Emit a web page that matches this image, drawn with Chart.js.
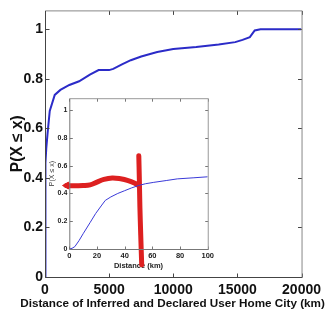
<!DOCTYPE html>
<html>
<head>
<meta charset="utf-8">
<script src="https://cdn.jsdelivr.net/npm/chart.js@4/dist/chart.umd.min.js"></script>
<style>
  html, body { margin: 0; padding: 0; background: #fff; }
  #wrap { position: relative; width: 326px; height: 320px; }
  #main { position: absolute; left: 0; top: 0; }
  #inset { position: absolute; left: 44px; top: 92px; }
</style>
</head>
<body>
<div id="wrap">
  <canvas id="main" width="326" height="320"></canvas>
  <canvas id="inset" width="172" height="178"></canvas>
</div>
<script>
// main CDF (distance in km)
const mainDist = [0, 20, 50, 100, 200, 370, 760, 1200, 1900, 2660, 3500, 4180, 5000, 5320, 6000, 6690, 7500, 8750, 10000, 11790, 13540, 14830, 15400, 15970, 16350, 16800, 20000];
const mainCdf = [0, 0.3, 0.46, 0.52, 0.58, 0.67, 0.735, 0.755, 0.775, 0.79, 0.817, 0.835, 0.835, 0.84, 0.858, 0.875, 0.89, 0.908, 0.92, 0.928, 0.938, 0.948, 0.957, 0.968, 0.995, 1.0, 1.0];
const mainXTicks = [0, 5000, 10000, 15000, 20000];
const mainYTicks = [0, 0.2, 0.4, 0.6, 0.8, 1];

// inset CDF (0-100 km)
const insetDist = [0, 2, 4, 7, 10, 15, 19, 23, 26, 30, 35, 40, 45, 50, 55, 61, 70, 78, 90, 100];
const insetCdf = [0, 0.005, 0.017, 0.06, 0.11, 0.19, 0.255, 0.31, 0.35, 0.375, 0.4, 0.42, 0.44, 0.457, 0.47, 0.48, 0.493, 0.505, 0.513, 0.52];
const insetXTicks = [0, 20, 40, 60, 80, 100];
const insetYTicks = [0, 0.2, 0.4, 0.6, 0.8, 1];

// red hand-drawn marks on the inset
const redWaveX = [-2, 3, 10, 15, 20, 25, 31, 37, 42.5, 47, 49.5];
const redWaveY = [0.457, 0.455, 0.457, 0.462, 0.482, 0.502, 0.512, 0.506, 0.493, 0.475, 0.46];
const redLineX = [50.2, 50.6, 51, 51.6, 52.3];
const redLineY = [0.671, 0.5, 0.3, 0.1, -0.114];

const xTitle = 'Distance of Inferred and Declared User Home City (km)';
const yTitle = 'P(X \u2264 x)';

const pts = (xs, ys) => xs.map((x, i) => ({ x: x, y: ys[i] }));
const plain = v => String(v);

const narrow = '"Liberation Sans Narrow", "Arial Narrow", "Liberation Sans", sans-serif';
const sans = '"Liberation Sans", Arial, sans-serif';

// font size that makes a bold string a given width
function fitSize(text, width, family) {
  const c = document.createElement('canvas').getContext('2d');
  c.font = 'bold 100px ' + family;
  return 100 * width / c.measureText(text).width;
}

// matlab-style box with inward ticks on all four sides
const boxTicks = {
  id: 'boxTicks',
  afterDraw(chart, args, opts) {
    const ctx = chart.ctx, a = chart.chartArea;
    const xs = chart.scales.x, ys = chart.scales.y;
    const len = opts.len || 4;
    const L = a.left + 0.5, R = a.right + 0.5, T = a.top + 0.5, B = a.bottom + 0.5;
    ctx.save();
    ctx.lineWidth = 1;
    ctx.strokeStyle = opts.color || '#333';
    ctx.beginPath();
    xs.ticks.forEach(t => {
      const px = Math.round(xs.getPixelForValue(t.value)) + 0.5;
      ctx.moveTo(px, B); ctx.lineTo(px, B - len);
      ctx.moveTo(px, T); ctx.lineTo(px, T + len);
    });
    ys.ticks.forEach(t => {
      const py = Math.round(ys.getPixelForValue(t.value)) + 0.5;
      ctx.moveTo(L, py); ctx.lineTo(L + len, py);
      ctx.moveTo(R, py); ctx.lineTo(R - len, py);
    });
    ctx.stroke();
    ctx.strokeStyle = opts.far || '#888';
    ctx.beginPath();
    ctx.moveTo(L, T); ctx.lineTo(R, T); ctx.lineTo(R, B);
    ctx.stroke();
    ctx.strokeStyle = opts.near || '#444';
    ctx.beginPath();
    ctx.moveTo(L, T); ctx.lineTo(L, B); ctx.lineTo(R, B);
    ctx.stroke();
    ctx.restore();
  }
};

// x title wider than the plot area (scale titles get squeezed to it)
const wideTitle = {
  id: 'wideTitle',
  afterDraw(chart, args, opts) {
    const ctx = chart.ctx;
    ctx.save();
    ctx.font = 'bold ' + opts.size + 'px ' + sans;
    ctx.fillStyle = '#111';
    ctx.textAlign = 'center';
    ctx.textBaseline = 'middle';
    ctx.fillText(opts.text, opts.x, opts.y);
    ctx.restore();
  }
};

const whiteArea = {
  id: 'whiteArea',
  beforeDraw(chart) {
    const a = chart.chartArea, ctx = chart.ctx;
    ctx.save();
    ctx.fillStyle = '#fff';
    ctx.fillRect(a.left, a.top, a.right - a.left, a.bottom - a.top);
    ctx.restore();
  }
};

new Chart(document.getElementById('main'), {
  type: 'line',
  data: {
    datasets: [{
      data: pts(mainDist, mainCdf),
      borderColor: '#2b2bc8',
      borderWidth: 2,
      pointRadius: 0,
      tension: 0
    }]
  },
  options: {
    responsive: false,
    animation: false,
    events: [],
    layout: { padding: { left: 8, right: 18, top: 8, bottom: 0 } },
    plugins: {
      legend: { display: false },
      tooltip: { enabled: false },
      boxTicks: { len: 4, color: '#444', near: '#444', far: '#888' },
      wideTitle: { text: xTitle, size: fitSize(xTitle, 305, sans), x: 172.5, y: 304 }
    },
    scales: {
      x: {
        type: 'linear', min: 0, max: 20000,
        afterBuildTicks: s => { s.ticks = mainXTicks.map(v => ({ value: v })); },
        afterFit: s => { s.height = 43; },
        grid: { display: false, drawTicks: false },
        border: { display: false },
        ticks: { color: '#111', font: { family: narrow, size: 14, weight: 'bold' }, padding: 5, maxRotation: 0, callback: plain },
        title: { display: false }
      },
      y: {
        type: 'linear', min: 0, max: 1.076,
        afterBuildTicks: s => { s.ticks = mainYTicks.map(v => ({ value: v })); },
        afterFit: s => { s.width = 37; },
        grid: { display: false, drawTicks: false },
        border: { display: false },
        ticks: { color: '#111', font: { family: narrow, size: 14, weight: 'bold' }, padding: 2, callback: plain },
        title: { display: true, text: yTitle, color: '#111', font: { family: sans, size: fitSize(yTitle, 57, sans), weight: 'bold' }, padding: 0 }
      }
    }
  },
  plugins: [boxTicks, wideTitle]
});

new Chart(document.getElementById('inset'), {
  type: 'line',
  data: {
    datasets: [{
      data: pts(insetDist, insetCdf),
      borderColor: '#3a3ad8',
      borderWidth: 1,
      pointRadius: 0,
      tension: 0
    }, {
      data: pts(redWaveX, redWaveY),
      borderColor: '#dd2020',
      backgroundColor: '#dd2020',
      borderWidth: 5,
      borderCapStyle: 'round',
      borderJoinStyle: 'round',
      pointStyle: 'triangle',
      pointRotation: 270,
      pointBorderWidth: 1,
      pointRadius: redWaveX.map((v, i) => i === 0 ? 4 : 0),
      tension: 0.4,
      clip: false
    }, {
      data: pts(redLineX, redLineY),
      borderColor: '#dd2020',
      borderWidth: 5,
      borderCapStyle: 'round',
      pointRadius: 0,
      tension: 0.3,
      clip: false
    }]
  },
  options: {
    responsive: false,
    animation: false,
    events: [],
    layout: { padding: { left: 4, right: 4, top: 5, bottom: 0 } },
    plugins: { legend: { display: false }, tooltip: { enabled: false }, boxTicks: { len: 3, color: '#777', near: '#777', far: '#999' } },
    scales: {
      x: {
        type: 'linear', min: 0, max: 100,
        afterBuildTicks: s => { s.ticks = insetXTicks.map(v => ({ value: v })); },
        afterFit: s => { s.height = 21; },
        grid: { display: false, drawTicks: false },
        border: { display: false },
        ticks: { color: '#222', font: { family: narrow, size: 7.5, weight: 'bold' }, padding: 2, maxRotation: 0, callback: plain },
        title: { display: true, text: 'Distance (km)', color: '#222', font: { family: narrow, size: 7.5, weight: 'bold' }, padding: 0 }
      },
      y: {
        type: 'linear', min: 0, max: 1.086,
        afterBuildTicks: s => { s.ticks = insetYTicks.map(v => ({ value: v })); },
        afterFit: s => { s.width = 21.3; },
        grid: { display: false, drawTicks: false },
        border: { display: false },
        ticks: { color: '#222', font: { family: narrow, size: 7, weight: 'bold' }, padding: 2, callback: plain },
        title: { display: true, text: yTitle, color: '#333', font: { family: narrow, size: 7 }, padding: 0 }
      }
    }
  },
  plugins: [whiteArea, boxTicks]
});
</script>
</body>
</html>
